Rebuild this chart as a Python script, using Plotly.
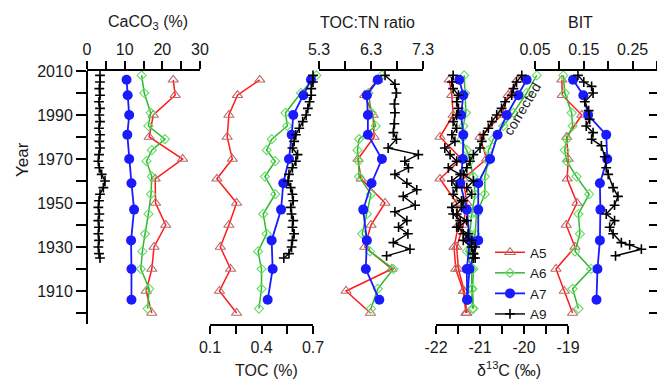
import plotly.graph_objects as go

W, H = 657, 380

# ---------------- data ----------------
a5_years = [2006, 1999, 1990, 1980, 1970, 1961, 1950, 1940, 1930, 1920, 1910, 1900]
a5_caco3 = [22.9, 23.4, 17.6, 16.5, 25.4, 18.1, 18.2, 20.9, 17.8, 17.2, 15.7, 17.2]
a5_toc = [0.39, 0.26, 0.21, 0.20, 0.23, 0.14, 0.255, 0.21, 0.16, 0.22, 0.155, 0.255]
a5_ratio = [6.43, 6.18, 6.34, 6.36, 6.05, 6.11, 6.57, 6.30, 6.18, 6.70, 5.82, 6.29]
a5_d13c = [-21.70, -21.64, -21.61, -21.91, -21.42, -21.91, -21.53, -21.49, -21.59, -21.55, -21.38, -21.32]
a5_d13c_corr = [-20.15, -20.36, -20.51, -21.0, -20.85, -21.38, -21.30, -21.38, -21.53, -21.49, -21.36, -21.30]
a5_bit = [0.105, 0.106, 0.146, 0.115, 0.118, 0.116, 0.136, 0.114, 0.132, 0.093, 0.110, 0.127]

a6_years = [2008, 2000, 1991, 1985, 1979, 1974, 1969, 1962, 1954, 1945, 1936, 1928, 1920, 1911, 1902]
a6_caco3 = [14.5, 15.2, 16.9, 16.3, 20.7, 17.2, 15.8, 17.2, 17.0, 16.3, 15.4, 14.7, 14.3, 16.5, 16.1]
a6_toc = [0.72, 0.63, 0.54, 0.55, 0.46, 0.43, 0.48, 0.42, 0.48, 0.41, 0.43, 0.38, 0.40, 0.40, 0.385]
a6_ratio = [6.51, 6.25, 6.31, 6.39, 6.07, 6.04, 6.06, 6.07, 6.30, 6.22, 6.13, 6.28, 6.73, 6.43, 6.30]
a6_d13c = [-21.36, -21.34, -21.32, -21.38, -21.42, -21.30, -21.23, -21.15, -21.11, -21.19, -21.23, -21.30, -21.19, -21.19, -21.17]
a6_d13c_corr = [-19.71, -19.94, -20.24, -20.47, -20.70, -20.81, -20.81, -20.89, -20.89, -21.08, -21.11, -21.23, -21.15, -21.17, -21.15]
a6_bit = [0.108, 0.111, 0.125, 0.127, 0.115, 0.111, 0.115, 0.135, 0.161, 0.139, 0.142, 0.132, 0.165, 0.127, 0.139]

a7_years = [2006, 1999, 1990, 1981, 1970, 1959, 1947, 1933, 1920, 1906]
a7_caco3 = [10.5, 10.8, 11.2, 10.7, 11.2, 11.8, 12.5, 11.7, 11.8, 11.8]
a7_toc = [0.688, 0.644, 0.585, 0.576, 0.560, 0.527, 0.514, 0.459, 0.465, 0.436]
a7_ratio = [6.43, 6.22, 6.24, 6.24, 6.51, 6.31, 6.15, 6.22, 6.20, 6.46]
a7_d13c = [-21.47, -21.38, -21.43, -21.38, -21.39, -21.45, -21.30, -21.23, -21.30, -21.29]
a7_d13c_corr = [-19.94, -20.13, -20.39, -20.60, -20.77, -21.04, -21.04, -21.04, -21.24, -21.29]
a7_bit = [0.128, 0.149, 0.159, 0.196, 0.198, 0.183, 0.184, 0.183, 0.178, 0.176]

a9_years = [2008, 2005, 2002, 1999, 1996, 1993, 1990, 1987, 1984, 1981, 1978, 1975, 1972, 1969, 1966,
            1963, 1960, 1957, 1954, 1951, 1948, 1945, 1942, 1939, 1936, 1933, 1930, 1927, 1925]
a9_caco3 = [3.45, 3.45, 3.27, 3.45, 3.19, 3.45, 3.27, 3.45, 3.19, 3.45, 3.27, 3.45, 3.19, 3.01, 3.27,
            3.89, 4.78, 4.34, 3.45, 3.19, 3.01, 3.27, 3.01, 3.19, 3.01, 3.19, 3.01, 3.19, 3.45]
a9_toc = [0.70, 0.70, 0.69, 0.69, 0.68, 0.67, 0.66, 0.64, 0.62, 0.60, 0.59, 0.58, 0.61, 0.60, 0.58,
          0.56, 0.555, 0.57, 0.58, 0.585, 0.57, 0.575, 0.585, 0.58, 0.59, 0.58, 0.575, 0.56, 0.53]
a9_d13c = [-21.61, -21.64, -21.61, -21.49, -21.53, -21.49, -21.53, -21.61, -21.53, -21.64, -21.57, -21.80,
           -21.68, -21.53, -21.72, -21.45, -21.64, -21.53, -21.61, -21.42, -21.64, -21.61, -21.45, -21.53,
           -21.27, -21.38, -21.19, -21.15, -21.15]
a9_d13c_corr = [-20.05, -20.17, -20.24, -20.28, -20.43, -20.51, -20.62, -20.73, -20.81, -20.92, -20.96, -21.0,
                -21.15, -21.23, -21.30, -21.38, -21.15, -21.30, -21.19, -21.38, -21.42, -21.53, -21.30, -21.49,
                -21.38, -21.19, -21.11, -21.15, -21.11]
a9_ratio_years = [2008, 2004, 2000, 1995, 1991, 1986, 1982, 1979, 1975, 1972, 1969, 1966, 1963, 1959,
                  1956, 1953, 1949, 1946, 1942, 1939, 1936, 1932, 1929, 1926]
a9_ratio = [6.57, 6.76, 6.79, 6.75, 6.76, 6.75, 6.73, 6.79, 6.63, 7.21, 6.95, 7.02, 6.76, 6.99,
            7.18, 6.92, 7.15, 6.76, 6.99, 6.83, 7.01, 6.73, 7.05, 6.60]
a9_bit_years = [2008, 2005, 2003, 2000, 1996, 1992, 1988, 1985, 1982, 1979, 1976, 1971, 1966, 1963,
                1957, 1953, 1949, 1945, 1942, 1939, 1936, 1932, 1931, 1929, 1926]
a9_bit = [0.138, 0.150, 0.166, 0.169, 0.152, 0.160, 0.162, 0.155, 0.169, 0.166, 0.186, 0.193, 0.196, 0.200,
          0.210, 0.220, 0.213, 0.196, 0.213, 0.203, 0.210, 0.227, 0.244, 0.268, 0.215]

year_major = [1910, 1930, 1950, 1970, 1990, 2010]
year_minor = [1900, 1920, 1940, 1960, 1980, 2000]

# --------------- axis geometry (pixels) ---------------
Y_TOP, Y_BOT = 71, 324
YEAR_RANGE = [1895, 2010]
panels = {
    # name: (px_left, px_right, v_left, v_right, side, major ticks, minor ticks)
    "caco3": (87, 200, 0, 30, "top", [0, 10, 20, 30], [5, 15, 25]),
    "toc": (210, 313, 0.1, 0.7, "bottom", [0.1, 0.4, 0.7], [0.25, 0.55]),
    "ratio": (319, 423, 5.3, 7.3, "top", [5.3, 6.3, 7.3], [5.8, 6.8]),
    "d13c": (436, 568, -22, -19, "bottom", [-22, -21, -20, -19], [-21.5, -20.5, -19.5]),
    "bit": (535, 657, 0.05, 0.30, "top", [0.05, 0.15, 0.25], [0.10, 0.20, 0.30]),
}
tick_text = {
    "caco3": ["0", "10", "20", "30"],
    "toc": ["0.1", "0.4", "0.7"],
    "ratio": ["5.3", "6.3", "7.3"],
    "d13c": ["-22", "-21", "-20", "-19"],
    "bit": ["0.05", "0.15", "0.25"],
}

FONT = "Liberation Sans, Arial, sans-serif"
fig = go.Figure()
layout = dict(
    width=W, height=H, margin=dict(l=0, r=0, t=0, b=0, pad=0, autoexpand=False),
    paper_bgcolor="white", plot_bgcolor="rgba(0,0,0,0)",
    font=dict(family=FONT, size=16, color="#1a1a1a"),
    showlegend=True,
)

ydom = [1 - Y_BOT / H, 1 - Y_TOP / H]
layout["yaxis"] = dict(domain=ydom, range=YEAR_RANGE, anchor="free", position=87 / W, automargin=False,
                       showline=True, linecolor="black", linewidth=2, ticks="outside", ticklen=10,
                       tickwidth=2, tickcolor="black", tickmode="array", tickvals=year_major,
                       minor=dict(tickmode="array", tickvals=year_minor, ticks="outside", ticklen=10,
                                  tickwidth=2, tickcolor="black", showgrid=False),
                       showgrid=False, zeroline=False, tickfont=dict(size=16))
layout["yaxis2"] = dict(domain=ydom, range=YEAR_RANGE, overlaying="y", anchor="free", position=1.0,
                        side="right", showline=False, ticks="inside", ticklen=8, tickwidth=2,
                        tickcolor="black", tickmode="array", tickvals=year_major[:-1] + year_minor,
                        showticklabels=False, automargin=False,
                        showgrid=False, zeroline=False)

data_axis = {}
disp_axis = {}
idx = 1
for name, (p0, p1, v0, v1, side, tv, mv) in panels.items():
    # invisible full-width data axis
    k = (v1 - v0) / (p1 - p0)
    rng = [v0 - p0 * k, v0 + (W - p0) * k]
    data_axis[name] = idx
    layout["xaxis" if idx == 1 else f"xaxis{idx}"] = dict(domain=[0, 1], range=rng, anchor="y",
                                                          visible=False, showgrid=False, zeroline=False,
                                                          automargin=False)
    idx += 1
    # visible display axis
    disp_axis[name] = idx
    layout[f"xaxis{idx}"] = dict(domain=[p0 / W, min(p1 / W, 1.0)], range=[v0, v1], anchor="y", side=side,
                                 showline=True, linecolor="black", linewidth=2, ticks="outside",
                                 ticklen=8, tickwidth=2, tickcolor="black", tickmode="array",
                                 tickvals=tv, ticktext=tick_text[name],
                                 minor=dict(tickmode="array", tickvals=mv, ticks="outside", ticklen=8,
                                            tickwidth=2, tickcolor="black", showgrid=False),
                                 showgrid=False, zeroline=False, tickfont=dict(size=16), automargin=False)
    fig.add_trace(go.Scatter(x=[None], y=[None], xaxis=f"x{idx}", yaxis="y", showlegend=False,
                             hoverinfo="skip"))
    idx += 1

fig.add_trace(go.Scatter(x=[None], y=[None], xaxis=f"x{disp_axis['bit']}", yaxis="y2",
                         showlegend=False, hoverinfo="skip"))

styles = {
    "A5": dict(line=dict(color="#ff1a1a", width=1.5),
               marker=dict(symbol="triangle-up-open", size=9, color="#b86a6a", line=dict(width=1.1))),
    "A6": dict(line=dict(color="#2eb82e", width=1.5),
               marker=dict(symbol="diamond-open", size=7, color="#66dd66", line=dict(width=1.1))),
    "A7": dict(line=dict(color="#1a1aff", width=1.8),
               marker=dict(symbol="circle", size=10, color="#1a1aff")),
    "A9": dict(line=dict(color="black", width=1.4),
               marker=dict(symbol="cross-thin", size=7, color="black", line=dict(width=1.6, color="black"))),
}

series = [
    ("A5", a5_years, {"caco3": a5_caco3, "toc": a5_toc, "ratio": a5_ratio, "d13c": a5_d13c,
                      "d13c_corr": a5_d13c_corr, "bit": a5_bit}),
    ("A6", a6_years, {"caco3": a6_caco3, "toc": a6_toc, "ratio": a6_ratio, "d13c": a6_d13c,
                      "d13c_corr": a6_d13c_corr, "bit": a6_bit}),
    ("A7", a7_years, {"caco3": a7_caco3, "toc": a7_toc, "ratio": a7_ratio, "d13c": a7_d13c,
                      "d13c_corr": a7_d13c_corr, "bit": a7_bit}),
    ("A9", a9_years, {"caco3": a9_caco3, "toc": a9_toc, "d13c": a9_d13c, "d13c_corr": a9_d13c_corr}),
]
extra_a9 = [("ratio", a9_ratio_years, a9_ratio), ("bit", a9_bit_years, a9_bit)]

for site, yrs, vals in series:
    first = True
    for key, v in vals.items():
        ax = data_axis["d13c" if key.startswith("d13c") else key]
        fig.add_trace(go.Scatter(x=v, y=yrs, mode="lines+markers", name=site, legendgroup=site,
                                 showlegend=first, xaxis="x" if ax == 1 else f"x{ax}", yaxis="y",
                                 cliponaxis=False, **styles[site]))
        first = False
for key, yrs, v in extra_a9:
    ax = data_axis[key]
    fig.add_trace(go.Scatter(x=v, y=yrs, mode="lines+markers", name="A9", legendgroup="A9",
                             showlegend=False, xaxis=f"x{ax}", yaxis="y", cliponaxis=False,
                             **styles["A9"]))

layout["legend"] = dict(x=490 / W, y=1 - 237 / H, xanchor="left", yanchor="top",
                        bgcolor="rgba(0,0,0,0)", font=dict(size=13.5), tracegroupgap=0,
                        itemwidth=30)


def ann(text, px, py, angle=0, size=16):
    return dict(text=text, x=px / W, y=1 - py / H, xref="paper", yref="paper", showarrow=False,
                textangle=angle, font=dict(size=size), xanchor="center", yanchor="middle")


layout["annotations"] = [
    ann("CaCO<sub>3</sub> (%)", 148, 23),
    ann("TOC:TN ratio", 367, 23),
    ann("BIT", 580, 23),
    ann("TOC (%)", 266, 370),
    ann("δ<sup>13</sup>C (‰)", 509, 369),
    ann("Year", 22, 160, angle=-90, size=17),
    ann("corrected", 522, 109, angle=-59, size=14),
]
fig.update_layout(**layout)
fig.write_html("out.html")
